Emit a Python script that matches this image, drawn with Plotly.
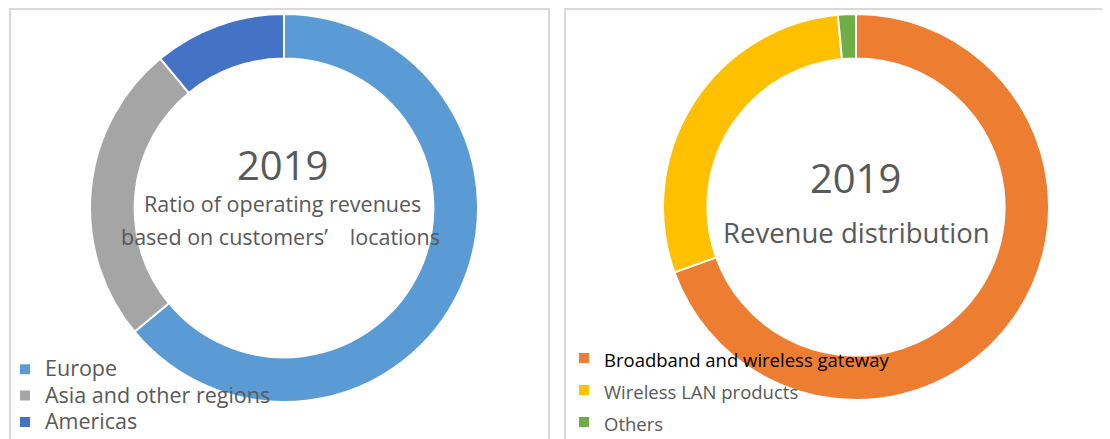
import plotly.graph_objects as go

OFF = 8                      # default page body margin in the browser
W, H = 1110 - OFF, 470       # figure taller than the window; the extra is off-screen

# ---- data ----
region_labels = ["Europe", "Asia and other regions", "Americas"]
region_values = [64.0, 25.0, 11.0]
region_colors = ["#5B9BD5", "#A5A5A5", "#4472C4"]

product_labels = ["Broadband and wireless gateway", "Wireless LAN products", "Others"]
product_values = [69.5, 29.0, 1.5]
product_colors = ["#ED7D31", "#FFC000", "#70AD47"]

year = "2019"
left_title = ["Ratio of operating revenues", "based on customers’\u3000locations"]
right_title = "Revenue distribution"

TXT = "#595959"
FONT = "Open Sans"

def px_x(x):
    return (x - OFF) / W

def px_y(y):
    return 1 - (y - OFF) / H

def dom(cx, cy, r):
    return dict(x=[px_x(cx - r), px_x(cx + r)], y=[px_y(cy + r), px_y(cy - r)])

fig = go.Figure()

region_display = ['<span style="font-size:21.5px">' + s + '</span>' for s in region_labels]

fig.add_trace(go.Pie(
    labels=region_display, values=region_values,
    marker=dict(colors=region_colors, line=dict(color="white", width=2)),
    hole=0.77, sort=False, direction="clockwise", rotation=0,
    textinfo="none", hoverinfo="label+percent",
    domain=dom(284, 208, 194),
    legend="legend",
))

product_display = [
    '<span style="color:#000000;font-size:18.5px">' + product_labels[0] + '</span>'
] + ['<span style="font-size:18.5px">' + p + '</span>' for p in product_labels[1:]]

fig.add_trace(go.Pie(
    labels=product_display, values=product_values,
    marker=dict(colors=product_colors, line=dict(color="white", width=2)),
    hole=0.77, sort=False, direction="clockwise", rotation=0,
    textinfo="none", hoverinfo="label+percent",
    domain=dom(856, 207, 193),
    legend="legend2",
))

ann = []
ann.append(dict(text=year, x=px_x(282), y=px_y(164), font=dict(size=40, color=TXT, family=FONT)))
ann.append(dict(text=left_title[0], x=px_x(282), y=px_y(204), font=dict(size=21.5, color=TXT, family=FONT)))
ann.append(dict(text=left_title[1], x=px_x(280), y=px_y(236), font=dict(size=21.5, color=TXT, family=FONT)))
ann.append(dict(text=year, x=px_x(855), y=px_y(177), font=dict(size=40, color=TXT, family=FONT)))
ann.append(dict(text=right_title, x=px_x(856), y=px_y(232), font=dict(size=27.5, color=TXT, family=FONT)))
for a in ann:
    a.update(xref="paper", yref="paper", showarrow=False, xanchor="center", yanchor="middle")

shapes = [
    dict(type="rect", xref="paper", yref="paper",
         x0=px_x(10), x1=px_x(549), y0=px_y(470), y1=px_y(9),
         line=dict(color="#D9D9D9", width=2), fillcolor="rgba(0,0,0,0)", layer="below"),
    dict(type="rect", xref="paper", yref="paper",
         x0=px_x(565), x1=px_x(1125), y0=px_y(470), y1=px_y(9),
         line=dict(color="#D9D9D9", width=2), fillcolor="rgba(0,0,0,0)", layer="below"),
]

fig.update_layout(
    width=W, height=H, autosize=False,
    margin=dict(l=0, r=0, t=0, b=0, autoexpand=False),
    paper_bgcolor="white", plot_bgcolor="white",
    annotations=ann, shapes=shapes,
    legend=dict(x=px_x(8), y=px_y(351), xanchor="left", yanchor="top",
                font=dict(size=18, color=TXT, family=FONT), indentation=-3,
                bgcolor="rgba(0,0,0,0)", itemwidth=30, traceorder="normal"),
    legend2=dict(x=px_x(564), y=px_y(337), xanchor="left", yanchor="top",
                 font=dict(size=22.3, color=TXT, family=FONT),
                 bgcolor="rgba(0,0,0,0)", itemwidth=30, traceorder="normal"),
    showlegend=True,
)

fig.write_html("out.html")
